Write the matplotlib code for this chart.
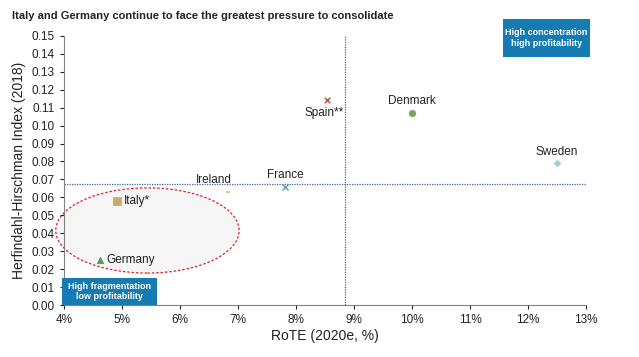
import matplotlib.pyplot as plt
from matplotlib.patches import Ellipse, Rectangle
from matplotlib.ticker import FuncFormatter

countries = ['Spain**', 'Denmark', 'France', 'Ireland', 'Sweden', 'Italy*', 'Germany']
rote = [8.53, 10.0, 7.82, 6.83, 12.5, 4.92, 4.62]
hhi = [0.114, 0.107, 0.066, 0.063, 0.079, 0.058, 0.025]
markers = ['x', 'o', 'x', '_', 'D', 's', '^']
colors = ['#b5574b', '#7ba35e', '#6c9fc4', '#d2b27e', '#a3ccd9', '#c8a96f', '#4d9a5d']
sizes = [16, 22, 20, 12, 12, 26, 22]
# label offsets in points (dx, dy, ha)
offsets = [(-2, -5, 'center'), (0, 4, 'center'), (0, 4, 'center'), (-10, 4, 'center'),
           (0, 4, 'center'), (5, 0, 'left'), (5, 0, 'left')]

avg_rote = 8.85
avg_hhi = 0.0674

fig = plt.figure(figsize=(6.39, 3.57), dpi=100)
ax = fig.add_axes([0.100, 0.145, 0.817, 0.755])

ell = Ellipse((5.44, 0.0416), 3.16, 0.0474, facecolor='#f6f6f6', edgecolor='#e0202a',
              linestyle=(0, (2, 1.5)), linewidth=0.9, zorder=1, clip_on=False)
ax.add_patch(ell)

ax.axvline(avg_rote, color='#3a62a8', linestyle=(0, (1, 1)), linewidth=0.9, zorder=2)
ax.axhline(avg_hhi, color='#3a62a8', linestyle=(0, (1, 1)), linewidth=0.9, zorder=2)

for i, c in enumerate(countries):
    ax.scatter(rote[i], hhi[i], marker=markers[i], color=colors[i], s=sizes[i],
               linewidths=1.1 if markers[i] in ('x', '_') else 0.5, zorder=3)
    dx, dy, ha = offsets[i]
    if dy > 0:
        va = 'bottom'
    elif dy < 0:
        va = 'top'
    else:
        va = 'center'
    ax.annotate(c, (rote[i], hhi[i]), xytext=(dx, dy), textcoords='offset points',
                ha=ha, va=va, fontsize=8.5, color='#222222', family='Liberation Sans', zorder=4)

ax.set_xlim(4, 13)
ax.set_ylim(0, 0.15)
ax.set_xticks(range(4, 14))
ax.set_yticks([i / 100 for i in range(16)])
ax.xaxis.set_major_formatter(FuncFormatter(lambda v, p: '%d%%' % v))
ax.yaxis.set_major_formatter(FuncFormatter(lambda v, p: '%.2f' % v))
ax.tick_params(labelsize=8.5, colors='#222222', length=3, width=0.8)
for lab in ax.get_xticklabels() + ax.get_yticklabels():
    lab.set_family('Liberation Sans')
for s in ['top', 'right']:
    ax.spines[s].set_visible(False)
for s in ['left', 'bottom']:
    ax.spines[s].set_color('#808080')

ax.set_xlabel('RoTE (2020e, %)', fontsize=10, family='Liberation Sans', color='#222222', labelpad=2)
ax.set_ylabel('Herfindahl-Hirschman Index (2018)', fontsize=10, family='Liberation Sans',
              color='#222222', labelpad=4)

fig.text(0.019, 0.955, 'Italy and Germany continue to face the greatest pressure to consolidate',
         fontsize=8, fontweight='bold', family='Liberation Sans', color='#222222', va='center')

# quadrant boxes
fig.patches.append(Rectangle((0.787, 0.840), 0.136, 0.107, transform=fig.transFigure,
                             facecolor='#167bb3', edgecolor='none', zorder=5))
fig.text(0.855, 0.8935, 'High concentration\nhigh profitability', ha='center', va='center',
         fontsize=6.5, fontweight='bold', color='white', family='Liberation Sans',
         linespacing=1.15, zorder=6)
fig.patches.append(Rectangle((0.097, 0.146), 0.149, 0.076, transform=fig.transFigure,
                             facecolor='#167bb3', edgecolor='none', zorder=5))
fig.text(0.1715, 0.184, 'High fragmentation\nlow profitability', ha='center', va='center',
         fontsize=6.5, fontweight='bold', color='white', family='Liberation Sans',
         linespacing=1.15, zorder=6)

plt.savefig('out.png', dpi=100)
